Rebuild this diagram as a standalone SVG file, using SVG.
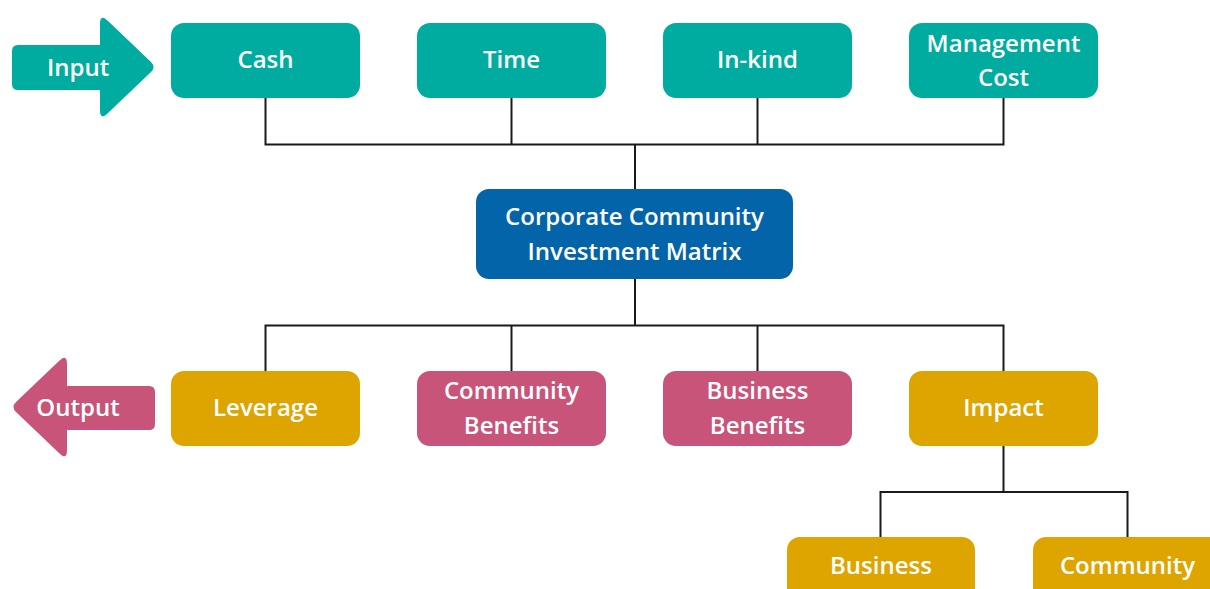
<svg xmlns="http://www.w3.org/2000/svg" width="1210" height="589" viewBox="0 0 1210 589">
  <style>
    .lbl { font-family: "Open Sans", "Noto Sans", "Liberation Sans", sans-serif; font-weight: 600; font-size: 24px; fill: #ffffff; text-anchor: middle; }
    .teal { fill: #00ac9f; }
    .blue { fill: #0364a9; }
    .gold { fill: #dea500; }
    .pink { fill: #c95479; }
    .wire { fill: none; stroke: #1a1a1a; stroke-width: 2; }
  </style>
  <rect width="1210" height="589" fill="#ffffff"/>

  <!-- tree connectors -->
  <g id="connectors" class="wire">
    <polyline points="265.5,98 265.5,144.5 1003.5,144.5 1003.5,98"/>
    <line x1="511.5" y1="98" x2="511.5" y2="144.5"/>
    <line x1="757.5" y1="98" x2="757.5" y2="144.5"/>
    <line x1="635" y1="144.5" x2="635" y2="189"/>
    <line x1="635" y1="279" x2="635" y2="325.5"/>
    <polyline points="265.5,371 265.5,325.5 1003.5,325.5 1003.5,371"/>
    <line x1="511.5" y1="325.5" x2="511.5" y2="371"/>
    <line x1="757.5" y1="325.5" x2="757.5" y2="371"/>
    <line x1="1003.5" y1="446" x2="1003.5" y2="492"/>
    <polyline points="880.5,537 880.5,492 1127.5,492 1127.5,537"/>
  </g>

  <!-- side arrows -->
  <g id="input-arrow">
    <path class="teal" d="M18,45 H100 V24 Q100,13 108,21 L151,62 Q156,67 151,72 L108,113 Q100,121 100,110 V90 H18 Q12,90 12,84 V51 Q12,45 18,45 Z"/>
    <text class="lbl" x="78" y="76">Input</text>
  </g>
  <g id="output-arrow">
    <path class="pink" d="M149,386 H67 V364 Q67,353 59,361 L16,402 Q11,407 16,412 L59,453 Q67,461 67,450 V430 H149 Q155,430 155,424 V392 Q155,386 149,386 Z"/>
    <text class="lbl" x="78" y="416">Output</text>
  </g>

  <!-- inputs -->
  <g id="cash">
    <rect class="teal" x="171" y="23" width="189" height="75" rx="13"/>
    <text class="lbl" x="265.5" y="68">Cash</text>
  </g>
  <g id="time">
    <rect class="teal" x="417" y="23" width="189" height="75" rx="13"/>
    <text class="lbl" x="511.5" y="68">Time</text>
  </g>
  <g id="in-kind">
    <rect class="teal" x="663" y="23" width="189" height="75" rx="13"/>
    <text class="lbl" x="757.5" y="68">In-kind</text>
  </g>
  <g id="management-cost">
    <rect class="teal" x="909" y="23" width="189" height="75" rx="13"/>
    <text class="lbl" x="1003.5" y="52">Management</text>
    <text class="lbl" x="1003.5" y="86">Cost</text>
  </g>

  <!-- hub -->
  <g id="ccim">
    <rect class="blue" x="476" y="189" width="317" height="90" rx="13"/>
    <text class="lbl" x="634.5" y="225">Corporate Community</text>
    <text class="lbl" x="634.5" y="260">Investment Matrix</text>
  </g>

  <!-- outputs -->
  <g id="leverage">
    <rect class="gold" x="171" y="371" width="189" height="75" rx="13"/>
    <text class="lbl" x="265.5" y="416">Leverage</text>
  </g>
  <g id="community-benefits">
    <rect class="pink" x="417" y="371" width="189" height="75" rx="13"/>
    <text class="lbl" x="511.5" y="399">Community</text>
    <text class="lbl" x="511.5" y="434">Benefits</text>
  </g>
  <g id="business-benefits">
    <rect class="pink" x="663" y="371" width="189" height="75" rx="13"/>
    <text class="lbl" x="757.5" y="399">Business</text>
    <text class="lbl" x="757.5" y="434">Benefits</text>
  </g>
  <g id="impact">
    <rect class="gold" x="909" y="371" width="189" height="75" rx="13"/>
    <text class="lbl" x="1003.5" y="416">Impact</text>
  </g>

  <!-- impact breakdown -->
  <g id="business">
    <rect class="gold" x="787" y="537" width="188" height="75" rx="13"/>
    <text class="lbl" x="881" y="574">Business</text>
  </g>
  <g id="community">
    <rect class="gold" x="1033" y="537" width="189" height="75" rx="13"/>
    <text class="lbl" x="1127.5" y="574">Community</text>
  </g>
</svg>
